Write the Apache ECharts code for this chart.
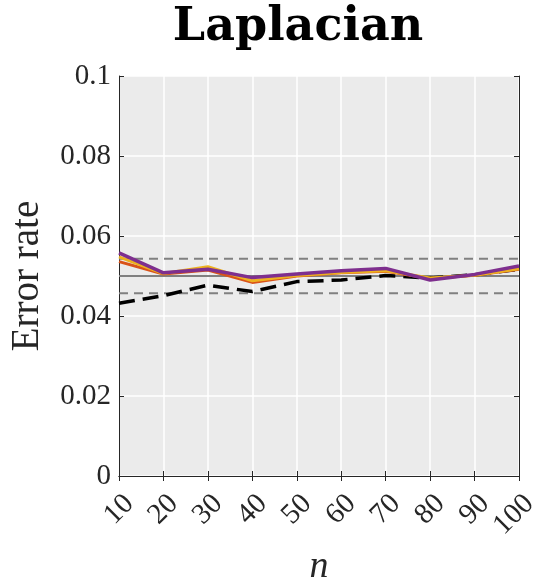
<!DOCTYPE html>
<html><head><meta charset="utf-8">
<script src="https://cdn.jsdelivr.net/npm/echarts@6/dist/echarts.min.js"></script>
<style>html,body{margin:0;padding:0;background:#fff}#c{width:539px;height:583px}</style>
</head><body><div id="c"></div>
<script>
const nValues = [10, 20, 30, 40, 50, 60, 70, 80, 90, 100];
const seriesOrange = [0.0536, 0.0505, 0.0515, 0.0484, 0.0500, 0.0508, 0.0512, 0.0494, 0.0502, 0.0517];
const seriesYellow = [0.0548, 0.0506, 0.0523, 0.0488, 0.0501, 0.0509, 0.0513, 0.0495, 0.0502, 0.0518];
const seriesPurple = [0.0558, 0.0508, 0.0517, 0.0496, 0.0505, 0.0513, 0.0519, 0.0490, 0.0504, 0.0525];
const seriesBlack  = [0.0432, 0.0451, 0.0477, 0.0461, 0.0486, 0.0490, 0.0501, 0.0495, 0.0503, 0.0517];
const nominal = 0.05;
const bandLow = 0.0457;
const bandHigh = 0.0543;
const yTicks = [0, 0.02, 0.04, 0.06, 0.08, 0.1];

const pts = a => nValues.map((n, i) => [n, a[i]]);
const hline = v => [[nValues[0], v], [nValues[nValues.length - 1], v]];
const font = "'Liberation Serif', 'DejaVu Serif', serif";

const chart = echarts.init(document.getElementById('c'), null, {renderer: 'canvas'});
const axisLine = {show: true, lineStyle: {color: '#262626', width: 1}};
chart.setOption({
  animation: false,
  backgroundColor: '#ffffff',
  title: {text: 'Laplacian', left: 293, top: 0, textAlign: 'center',
    textStyle: {fontFamily: "'DejaVu Serif', serif", fontWeight: 'bold', fontSize: 46, color: '#000'}},
  grid: {left: 119, top: 76, width: 400, height: 400, backgroundColor: '#ebebeb', show: true, borderWidth: 0,
    outerBoundsMode: 'none', containLabel: false},
  xAxis: [{
    type: 'value', min: 10, max: 100, interval: 10,
    axisLine: axisLine,
    axisTick: {show: true, inside: true, length: 5, lineStyle: {color: '#262626'}},
    splitLine: {show: true, lineStyle: {color: '#ffffff', width: 1.5}},
    axisLabel: {rotate: 45, fontFamily: font, fontSize: 29, color: '#262626', margin: 13, verticalAlign: 'top'},
    name: 'n', nameLocation: 'middle', nameGap: 72,
    nameTextStyle: {fontFamily: font, fontStyle: 'italic', fontSize: 38, color: '#262626'}
  }, {
    type: 'value', position: 'top', min: 10, max: 100, interval: 10,
    axisLine: axisLine, axisTick: {show: true, inside: true, length: 5, lineStyle: {color: '#262626'}},
    axisLabel: {show: false}, splitLine: {show: false}
  }],
  yAxis: [{
    type: 'value', min: 0, max: 0.1, interval: 0.02,
    axisLine: axisLine,
    axisTick: {show: true, inside: true, length: 5, lineStyle: {color: '#262626'}},
    splitLine: {show: true, lineStyle: {color: '#ffffff', width: 1.5}},
    axisLabel: {fontFamily: font, fontSize: 29, color: '#262626', margin: 8,
      formatter: v => { const t = yTicks.find(x => Math.abs(x - v) < 1e-9); return String(t !== undefined ? t : v); }},
    name: 'Error rate', nameLocation: 'middle', nameGap: 72,
    nameTextStyle: {fontFamily: font, fontSize: 39, color: '#262626'}
  }, {
    type: 'value', position: 'right', min: 0, max: 0.1, interval: 0.02,
    axisLine: axisLine, axisTick: {show: true, inside: true, length: 5, lineStyle: {color: '#262626'}},
    axisLabel: {show: false}, splitLine: {show: false}
  }],
  series: [
    {type: 'line', data: hline(nominal), symbol: 'none', lineStyle: {color: '#808080', width: 2}, silent: true},
    {type: 'line', data: hline(bandLow), symbol: 'none', lineStyle: {color: '#808080', width: 2, type: [9, 6]}, silent: true},
    {type: 'line', data: hline(bandHigh), symbol: 'none', lineStyle: {color: '#808080', width: 2, type: [9, 6]}, silent: true},
    {type: 'line', data: pts(seriesBlack), symbol: 'none', lineStyle: {color: '#000000', width: 3.5, type: [16, 8]}},
    {type: 'line', data: pts(seriesOrange), symbol: 'none', lineStyle: {color: '#D95319', width: 3}},
    {type: 'line', data: pts(seriesYellow), symbol: 'none', lineStyle: {color: '#EDB120', width: 3}},
    {type: 'line', data: pts(seriesPurple), symbol: 'none', lineStyle: {color: '#7E2F8E', width: 3.5}}
  ]
});
</script></body></html>
